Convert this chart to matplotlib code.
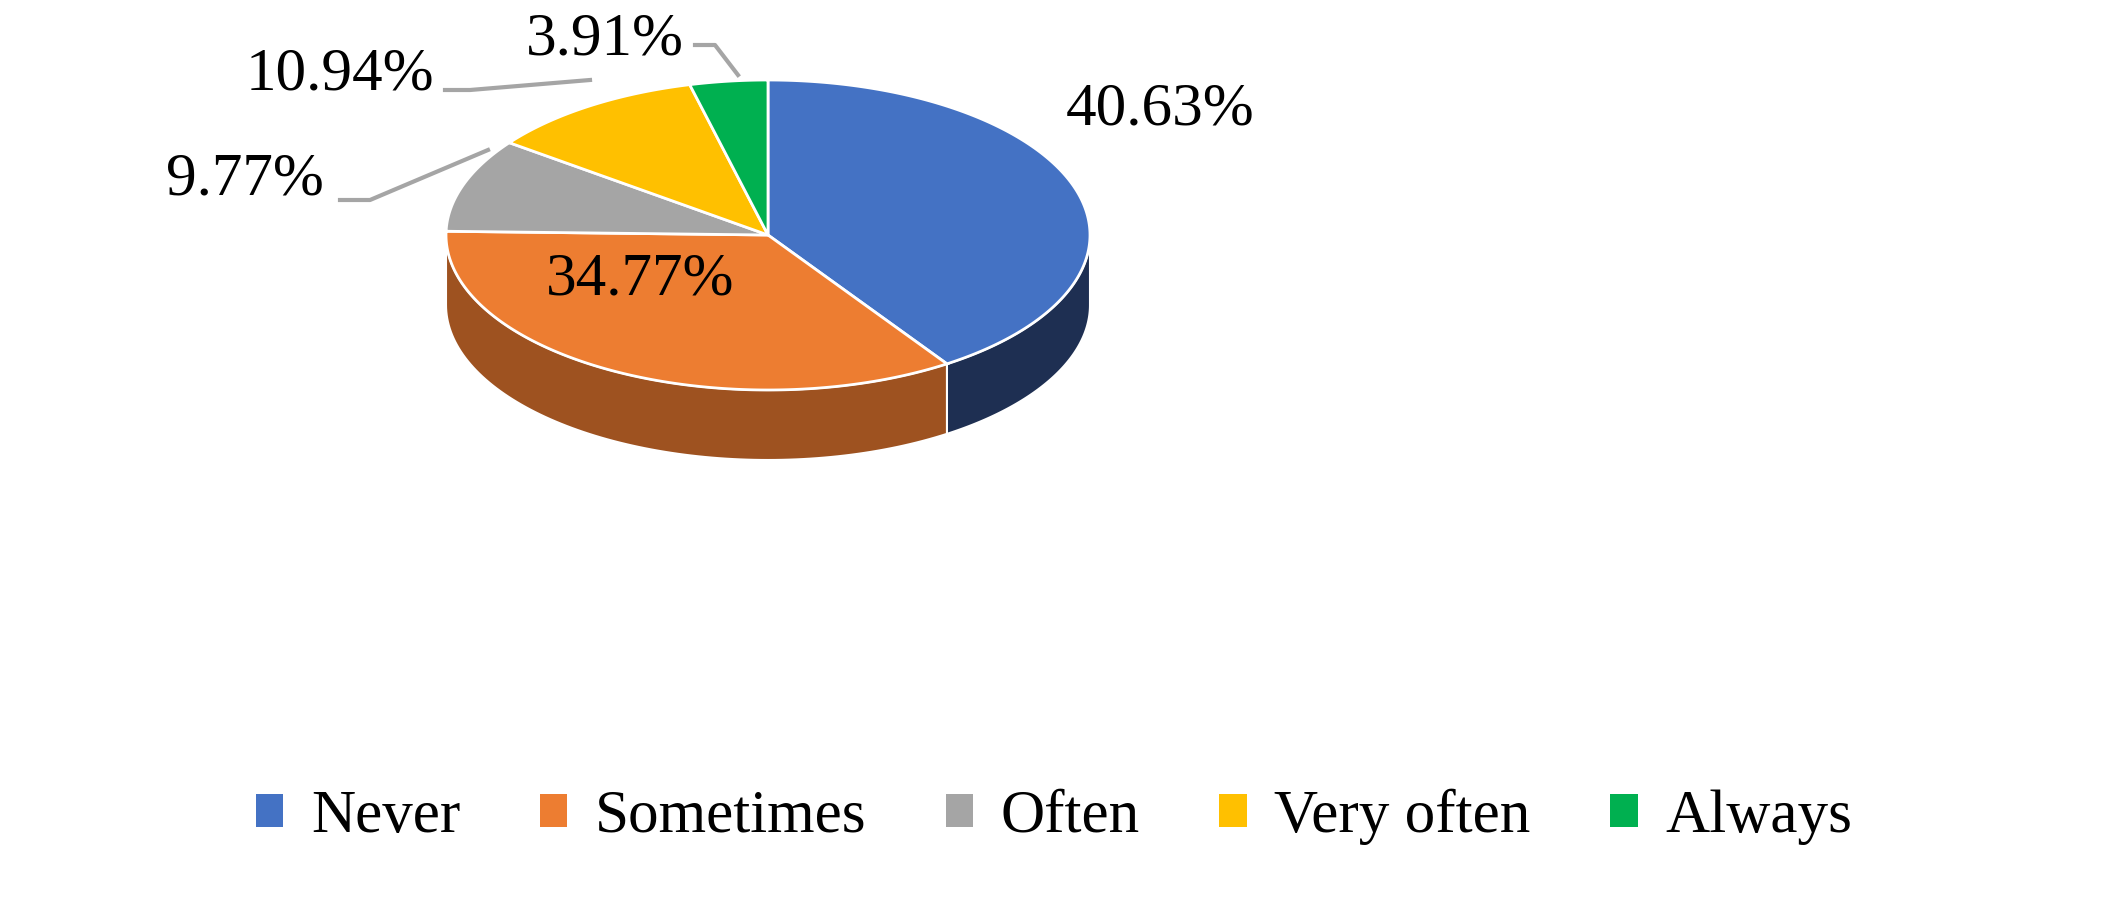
import numpy as np
import matplotlib.pyplot as plt
from matplotlib.patches import Polygon, Patch

categories = ["Never", "Sometimes", "Often", "Very often", "Always"]
values = [40.63, 34.77, 9.77, 10.94, 3.91]
labels = ["40.63%", "34.77%", "9.77%", "10.94%", "3.91%"]
colors = ["#4472c4", "#ed7d31", "#a5a5a5", "#ffc000", "#00b050"]
side_colors = ["#1e2f52", "#9e5220", "#6b6b6b", "#a07800", "#006b30"]

W, H = 2108, 900
fig = plt.figure(figsize=(W/100, H/100), dpi=100)
ax = fig.add_axes([0, 0, 1, 1])
ax.set_xlim(0, W); ax.set_ylim(0, H); ax.axis("off")

cx, cy, rx, ry, depth = 768, 900-235, 322, 155, 70
font = dict(family="Liberation Serif", fontsize=44)

def pt(t):
    return cx + rx*np.cos(np.radians(t)), cy + ry*np.sin(np.radians(t))

tot = sum(values)
start = 90.0
wedges = []
for v in values:
    end = start - v/tot*360
    wedges.append((start, end))
    start = end

# sides
for (s, e), sc in zip(wedges, side_colors):
    lo, hi = max(e, -180), min(s, 0)
    if hi > lo:
        t = np.linspace(lo, hi, 100)
        x, y = pt(t)
        xs = np.concatenate([x, x[::-1]]); ys = np.concatenate([y, (y-depth)[::-1]])
        ax.add_patch(Polygon(np.column_stack([xs, ys]), closed=True, fc=sc, ec="white", lw=1.5))
# tops
for (s, e), c in zip(wedges, colors):
    t = np.linspace(s, e, 200)
    x, y = pt(t)
    poly = np.vstack([[cx, cy], np.column_stack([x, y])])
    ax.add_patch(Polygon(poly, closed=True, fc=c, ec="white", lw=2))

# labels
lab_pos = [(1160, 790), (640, 620), (245, 720), (340, 825), (605, 860)]
leaders = [None, None,
           [(340, 700), (370, 700), (488, 750)],
           [(445, 810), (470, 810), (590, 820)],
           [(695, 855), (715, 855), (738, 825)]]
for (x, y), l, ld in zip(lab_pos, labels, leaders):
    ax.text(x, y, l, ha="center", va="center", color="black", **font)
    if ld:
        xs, ys = zip(*ld)
        ax.plot(xs, ys, color="#a5a5a5", lw=3)

handles = [Patch(fc=c, ec="none") for c in colors]
fig.legend(handles, categories, loc="lower center", ncol=5, frameon=False,
           bbox_to_anchor=(0.5, 0.0), prop=dict(family="Liberation Serif", size=44),
           handlelength=0.45, handleheight=0.45, columnspacing=1.3, handletextpad=0.45)
fig.savefig("out.png", dpi=100)
